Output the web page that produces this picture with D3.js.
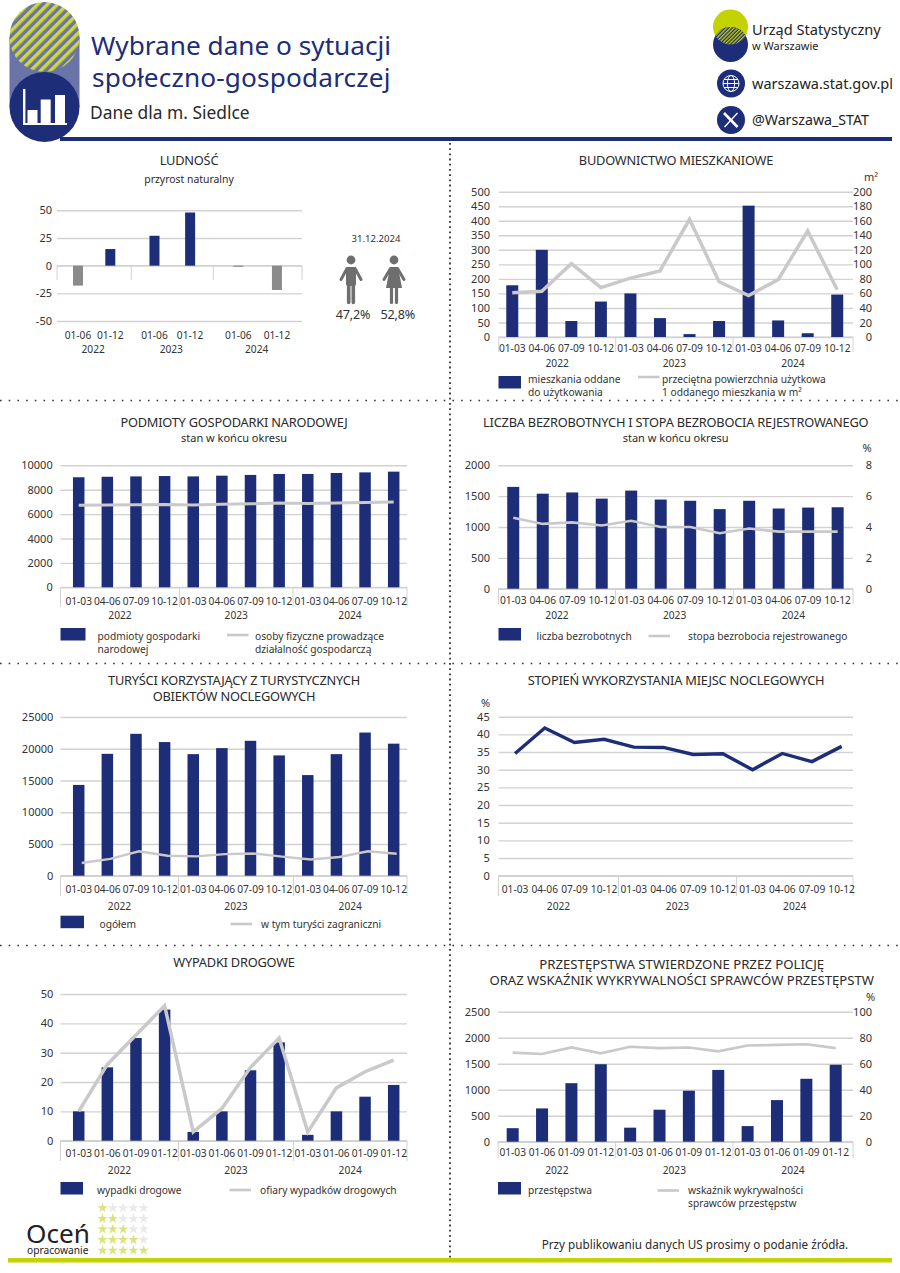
<!DOCTYPE html>
<html lang="pl"><head><meta charset="utf-8">
<script src="https://cdn.jsdelivr.net/npm/d3@7/dist/d3.min.js"></script>
<style>html,body{margin:0;padding:0;background:#fff}svg{display:block}text{font-family:"Noto Sans",sans-serif;fill:#333}</style>
</head><body><svg id="c" width="900" height="1273"></svg>
<script>
// ---------- data ----------
const years = ["2022","2023","2024"];
const catsHalf = ["01-06","01-12"];
const catsQuarter = ["01-03","04-06","07-09","10-12"];
const catsCumulative = ["01-03","01-06","01-09","01-12"];
const naturalIncrease = [-18,15,27,48,-1,-22];
const dwellings = [178,300,55,122,150,65,10,55,452,57,13,146];
const dwellingArea = [61,63,101,68,81,91,162,76,57,79,146,65];
const entities = [9020,9060,9090,9120,9090,9150,9210,9290,9290,9370,9420,9480];
const selfEmployed = [6720,6740,6760,6780,6740,6800,6840,6900,6860,6920,6950,7000];
const unemployed = [1650,1540,1560,1460,1590,1445,1425,1290,1425,1300,1315,1320];
const unemploymentRate = [4.6,4.2,4.3,4.1,4.4,4.0,4.0,3.6,3.9,3.7,3.7,3.7];
const tourists = [14300,19200,22350,21050,19150,20100,21250,18950,15850,19150,22550,20800];
const foreignTourists = [2000,2650,3850,3150,3050,3400,3500,3000,2550,2950,3850,3450];
const occupancy = [34.6,41.8,37.7,38.6,36.4,36.3,34.3,34.5,30,34.6,32.3,36.6];
const accidents = [10,25,35,44.7,3,10,24,33.5,2,10,15,19];
const victims = [10,26,36,46,3,11,25,35,3,18,23.5,27.5];
const crimes = [260,640,1125,1490,270,615,980,1380,300,800,1210,1480];
const detection = [68.5,67.5,72.5,68,73,72,72.5,69.5,74,74.5,75,72];

const NAVY="#1d2d78", GREY="#c9c9c9", GRID="#d2d2d2", LIME="#c4d200", SLATE="#6b74a8";
const svg=d3.select("#c");
const defs=svg.append("defs");
function stripes(id,a,b,p){const g=defs.append("pattern").attr("id",id).attr("width",p).attr("height",p)
  .attr("patternUnits","userSpaceOnUse").attr("patternTransform","rotate(45)");
  g.append("rect").attr("width",p).attr("height",p).attr("fill",b);
  g.append("rect").attr("width",p/2).attr("height",p).attr("fill",a);}
stripes("st1","#cfd836",SLATE,7); stripes("st2",LIME,NAVY,2.6);

function txt(x,y,s,size,o={}){return svg.append("text").attr("x",x).attr("y",y).attr("dy",o.dy===undefined?".35em":o.dy)
  .attr("text-anchor",o.a||"start").attr("font-size",size).style("fill",o.fill||"#333")
  .style("letter-spacing",o.ls||null).text(s);}

// ---------- header ----------
svg.append("rect").attr("x",9.5).attr("y",37).attr("width",70).attr("height",70).attr("fill",SLATE);
svg.append("circle").attr("cx",44.5).attr("cy",37).attr("r",35).attr("fill","url(#st1)");
svg.append("circle").attr("cx",44.5).attr("cy",107).attr("r",35).attr("fill",NAVY);
[[27.5,110],[40.7,99.5],[55,95]].forEach(d=>svg.append("rect").attr("x",d[0]).attr("y",d[1]).attr("width",10).attr("height",123-d[1]).attr("fill","#fff"));
svg.append("rect").attr("x",23).attr("y",89).attr("width",2.4).attr("height",36).attr("fill","#fff");
svg.append("rect").attr("x",23).attr("y",123).attr("width",44).attr("height",2).attr("fill","#fff");
svg.append("rect").attr("x",60).attr("y",137).attr("width",832).attr("height",4).attr("fill",NAVY);
txt(91,55,"Wybrane dane o sytuacji",26.2,{dy:0,fill:NAVY});
txt(92,87,"społeczno-gospodarczej",26.2,{dy:0,fill:NAVY,ls:".15px"});
txt(90,119,"Dane dla m. Siedlce",17.4,{dy:0,fill:"#2a2a2a"});
// logo
svg.append("circle").attr("cx",730.5).attr("cy",27).attr("r",17.5).attr("fill",LIME);
svg.append("circle").attr("cx",730.5).attr("cy",44.5).attr("r",17.5).attr("fill",NAVY);
defs.append("clipPath").attr("id","lens").append("circle").attr("cx",730.5).attr("cy",27).attr("r",17.5);
svg.append("circle").attr("cx",730.5).attr("cy",44.5).attr("r",17.5).attr("fill","url(#st2)").attr("clip-path","url(#lens)");
txt(752,35,"Urząd Statystyczny",14.6,{dy:0,fill:"#222"});
txt(752,50,"w Warszawie",11,{dy:0,fill:"#222"});
svg.append("circle").attr("cx",731).attr("cy",83.5).attr("r",14).attr("fill",NAVY);
const gl=svg.append("g").attr("fill","none").attr("stroke","#fff").attr("stroke-width",1);
gl.append("circle").attr("cx",731).attr("cy",83.5).attr("r",8);
gl.append("ellipse").attr("cx",731).attr("cy",83.5).attr("rx",3.6).attr("ry",8);
gl.append("path").attr("d","M723 83.5H739M724 79.5H738M724 87.5H738");
txt(752,89,"warszawa.stat.gov.pl",14.5,{dy:0,fill:"#222"});
svg.append("circle").attr("cx",731).attr("cy",120).attr("r",14).attr("fill",NAVY);
svg.append("path").attr("d","M737.5 113L724.5 127").attr("stroke","#fff").attr("stroke-width",1.3).attr("fill","none");
svg.append("path").attr("d","M724 113L737.5 127").attr("stroke","#fff").attr("stroke-width",2.6).attr("fill","none");
txt(752,120,"@Warszawa_STAT",14.2,{fill:"#222"});

// ---------- dividers ----------
const dots=svg.append("g").attr("stroke","#333").attr("fill","none");
dots.append("line").attr("x1",450).attr("x2",450).attr("y1",143).attr("y2",1258).attr("stroke-width",1.8).attr("stroke-dasharray","1.8 3.4");
[400.5,663.5,945.5].forEach(y=>dots.append("line").attr("x1",0).attr("x2",900).attr("y1",y).attr("y2",y).attr("stroke-width",1.6).attr("stroke-dasharray","1.6 7.1"));

// ---------- generic chart ----------
function chart(o){
  const g=svg.append("g");
  const y=d3.scaleLinear().domain(o.yDomain).range([o.y0,o.yTop]);
  const n=o.cats.length*years.length, idx=d3.range(n);
  let xPos;
  if(o.nested){
    const per=years.map((_,k)=>d3.scalePoint().domain(d3.range(o.cats.length)).range([o.seps[k],o.seps[k+1]]).padding(o.nested));
    xPos=i=>per[Math.floor(i/o.cats.length)](i%o.cats.length);
  } else {
    const band=d3.scaleBand().domain(idx).range(o.band);
    xPos=i=>band(i)+band.bandwidth()/2;
  }
  const gx0=o.seps[0], gx1=o.seps[o.seps.length-1];
  // left axis with grid
  const ax=g.append("g").attr("transform",`translate(${gx0},0)`)
    .call(d3.axisLeft(y).tickValues(d3.range(o.yDomain[0],o.yDomain[1]+1e-9,o.yStep)).tickFormat(d=>String(d))
      .tickSize(-(gx1-gx0)).tickPadding(gx0-o.labelLeft));
  ax.select(".domain").remove();
  ax.selectAll("line").attr("stroke",GRID).attr("stroke-width",1.4);
  ax.selectAll("text").attr("font-size",o.tickFs||11).style("fill","#333");
  // right axis labels
  if(o.y2Domain){
    const y2=d3.scaleLinear().domain(o.y2Domain).range([o.y0,o.yTop]);
    o.y2=y2;
    const ar=g.append("g").attr("transform",`translate(${gx1},0)`)
      .call(d3.axisRight(y2).tickValues(d3.range(o.y2Domain[0],o.y2Domain[1]+1e-9,o.y2Step)).tickFormat(d=>String(d)).tickSize(0).tickPadding(o.labelRight-gx1));
    ar.select(".domain").remove();
    ar.selectAll("text").attr("text-anchor","end").attr("font-size",o.tickFs||11).style("fill","#333");
  }
  // separators + baseline at value zero
  g.append("line").attr("x1",gx0).attr("x2",gx1).attr("y1",y(0)).attr("y2",y(0)).attr("stroke",GRID).attr("stroke-width",1.2);
  g.selectAll("line.sep").data(o.seps).join("line").attr("class","sep").attr("x1",d=>d).attr("x2",d=>d)
    .attr("y1",y(0)).attr("y2",o.sepBottom).attr("stroke",GRID).attr("stroke-width",1);
  // bars
  if(o.bars){
    const w=o.barW||12;
    g.selectAll("rect.bar").data(o.bars).join("rect").attr("class","bar")
      .attr("x",(d,i)=>xPos(i)-w/2).attr("width",w)
      .attr("y",d=>d>=0?y(d):y(0)).attr("height",d=>Math.abs(y(d)-y(0)))
      .attr("fill",d=>d>=0?NAVY:"#8a8a8a");
  }
  // line
  if(o.line){
    const ly=o.lineOnRight?o.y2:y, dx=o.lineDx||0;
    g.append("path").datum(o.line).attr("fill","none").attr("stroke",o.lineColor||GREY)
      .attr("stroke-width",o.lineW||3).attr("stroke-linejoin","miter")
      .attr("d",d3.line().x((d,i)=>xPos(i)+dx).y(d=>ly(d)));
  }
  // category + year labels
  const cats=idx.map(i=>o.cats[i%o.cats.length]);
  g.selectAll("text.cat").data(cats).join("text").attr("class","cat").attr("x",(d,i)=>xPos(i)).attr("y",o.catY).attr("dy",".35em")
    .attr("text-anchor","middle").attr("font-size",o.catFs||10.2).style("fill","#333").text(d=>d);
  g.selectAll("text.year").data(years).join("text").attr("class","year")
    .attr("x",(d,i)=>(o.seps[i]+o.seps[i+1])/2+(o.yearDx||0)).attr("y",o.yearY).attr("dy",".35em")
    .attr("text-anchor","middle").attr("font-size",o.catFs||10.2).style("fill","#333").text(d=>d);
  // titles
  (o.titles||[]).forEach(t=>txt(t[0],t[1],t[2],t[3],{a:"middle",fill:"#2a2a2a",ls:t[4]}));
  // units
  if(o.unit) txt(o.unit[0],o.unit[1],o.unit[2],11,{a:"middle"});
  // legend
  if(o.legend){
    const L=o.legend;
    svg.append("rect").attr("x",L.sx).attr("y",L.sy).attr("width",L.sw).attr("height",12.5).attr("fill",NAVY);
    L.bar.forEach((t,i)=>txt(L.bx,L.ty+i*13,t,10.2));
    svg.append("line").attr("x1",L.lx).attr("x2",L.lx+21.5).attr("y1",L.ly).attr("y2",L.ly).attr("stroke",GREY).attr("stroke-width",2.6);
    L.line.forEach((t,i)=>txt(L.ltx,L.ty+i*13,t,10.2));
  }
}
const T=12.8, LS="-.22px", SUB=11;

chart({cats:catsHalf,bars:naturalIncrease,yDomain:[-50,50],yStep:25,yTop:210.3,y0:321,
  seps:[57,131.3,213.3,302],nested:.65,sepBottom:280,labelLeft:52,catY:335,yearY:349,yearDx:-1,barW:10,
  titles:[[189,161,"LUDNOŚĆ",T,LS],[189,179,"przyrost naturalny",10.4]]});

chart({cats:catsQuarter,bars:dwellings,line:dwellingArea,lineOnRight:true,lineW:3.5,yDomain:[0,500],yStep:50,y2Domain:[0,200],y2Step:20,
  yTop:191.7,y0:337,seps:[498.7,615.7,733,853],band:[497.5,852],sepBottom:352,labelLeft:490,labelRight:872,catY:348,yearY:363,
  titles:[[676,161,"BUDOWNICTWO MIESZKANIOWE",T,LS]],unit:[871,177,"m²"],
  legend:{sx:498.5,sy:376,sw:22.5,bx:528,ty:379.5,bar:["mieszkania oddane","do użytkowania"],lx:638,ly:377,ltx:662,line:["przeciętna powierzchnia użytkowa","1 oddanego mieszkania w m²"]}});

chart({cats:catsQuarter,bars:entities,line:selfEmployed,yDomain:[0,10000],yStep:2000,yTop:465.3,y0:587.3,
  seps:[60.5,179.5,293,407],band:[64.4,408],barW:11.5,sepBottom:607,labelLeft:52.7,catY:601,yearY:615,
  titles:[[234,423,"PODMIOTY GOSPODARKI NARODOWEJ",T,LS],[234,438,"stan w końcu okresu",SUB]],
  legend:{sx:60.5,sy:628,sw:25,bx:97.5,ty:636.5,bar:["podmioty gospodarki","narodowej"],lx:227,ly:635,ltx:255,line:["osoby fizyczne prowadzące","działalność gospodarczą"]}});

chart({cats:catsQuarter,bars:unemployed,line:unemploymentRate,lineOnRight:true,lineW:2.6,yDomain:[0,2000],yStep:500,y2Domain:[0,8],y2Step:2,
  yTop:465.3,y0:588.7,seps:[498.5,615.5,733.7,853],band:[498.5,852.4],sepBottom:604,labelLeft:490,labelRight:872,catY:600,yearY:615,
  titles:[[675.7,423,"LICZBA BEZROBOTNYCH I STOPA BEZROBOCIA REJESTROWANEGO",T,LS],[675.7,438,"stan w końcu okresu",SUB]],unit:[867,448,"%"],
  legend:{sx:498.5,sy:628,sw:22.5,bx:536.5,ty:636,bar:["liczba bezrobotnych"],lx:648.5,ly:636,ltx:688,line:["stopa bezrobocia rejestrowanego"]}});

chart({cats:catsQuarter,bars:tourists,line:foreignTourists,lineDx:3,lineW:2.4,yDomain:[0,25000],yStep:5000,yTop:717,y0:875.7,
  seps:[60.5,178.5,293.5,407],band:[64.4,408],barW:11.5,sepBottom:896,labelLeft:53.3,catY:889.7,yearY:906.7,
  titles:[[234,680.7,"TURYŚCI KORZYSTAJĄCY Z TURYSTYCZNYCH",T,LS],[234,696.7,"OBIEKTÓW NOCLEGOWYCH",T,LS]],
  legend:{sx:60.5,sy:915.7,sw:23.5,bx:99.5,ty:924,bar:["ogółem"],lx:230.5,ly:924,ltx:261,line:["w tym turyści zagraniczni"]}});

chart({cats:catsQuarter,line:occupancy,lineColor:NAVY,lineW:3.4,yDomain:[0,45],yStep:5,yTop:716.7,y0:875.7,
  seps:[498.5,618.5,736.5,853],band:[500.2,856.5],sepBottom:896,labelLeft:489.7,catY:889.7,yearY:906.7,
  titles:[[676,680.7,"STOPIEŃ WYKORZYSTANIA MIEJSC NOCLEGOWYCH",T,LS]],unit:[485.7,702.7,"%"]});

chart({cats:catsCumulative,bars:accidents,line:victims,lineW:3.5,yDomain:[0,50],yStep:10,yTop:994,y0:1140.7,
  seps:[60.5,178.5,293.5,407],band:[64.4,408],barW:11.5,sepBottom:1161,labelLeft:53.3,catY:1153,yearY:1170,
  titles:[[234,963,"WYPADKI DROGOWE",T,LS]],
  legend:{sx:60.5,sy:1182,sw:22.5,bx:97,ty:1190,bar:["wypadki drogowe"],lx:229.5,ly:1190,ltx:260,line:["ofiary wypadków drogowych"]}});

chart({cats:catsCumulative,bars:crimes,line:detection,lineOnRight:true,lineW:2.6,yDomain:[0,2500],yStep:500,y2Domain:[0,100],y2Step:20,
  yTop:1011.7,y0:1141.7,seps:[498,615.7,733,853],band:[498,850.4],sepBottom:1158.3,labelLeft:490,labelRight:872,catY:1152.7,yearY:1170,
  titles:[[681.7,964.7,"PRZESTĘPSTWA STWIERDZONE PRZEZ POLICJĘ",13.2],[681.7,980.7,"ORAZ WSKAŹNIK WYKRYWALNOŚCI SPRAWCÓW PRZESTĘPSTW",13.1]],unit:[870.7,997,"%"],
  legend:{sx:498,sy:1182,sw:23,bx:528,ty:1190.5,bar:["przestępstwa"],lx:657.5,ly:1190.5,ltx:688,line:["wskaźnik wykrywalności","sprawców przestępstw"]}});

// ---------- gender icons ----------
const IC="#6e6e6e";
function limb(d,w){svg.append("path").attr("d",d).attr("fill","none").attr("stroke",IC).attr("stroke-width",w).attr("stroke-linecap","round");}
svg.append("circle").attr("cx",351).attr("cy",260).attr("r",4.4).attr("fill",IC);
svg.append("rect").attr("x",346).attr("y",267).attr("width",10).attr("height",19).attr("rx",2).attr("fill",IC);
limb("M347 268.5L341 279.5M355 268.5L361 279.5",3); limb("M348.7 284V302.5M353.3 284V302.5",3.6);
svg.append("circle").attr("cx",394).attr("cy",260).attr("r",4.4).attr("fill",IC);
svg.append("path").attr("d","M390 267H398L402 288H386Z").attr("fill",IC);
limb("M390.5 268.5L384 279.5M397.5 268.5L404 279.5",3); limb("M391.5 288V302.5M396.5 288V302.5",3.2);
txt(376,239,"31.12.2024",9.6,{a:"middle"});
txt(353,315,"47,2%",12.6,{a:"middle",ls:"-.2px"});
txt(397.7,315,"52,8%",12.6,{a:"middle",ls:"-.2px"});

// ---------- footer ----------
svg.append("rect").attr("x",8).attr("y",1258).attr("width",884).attr("height",4.5).attr("fill",LIME);
txt(26,1243,"Oceń",26.2,{dy:0,fill:"#222"});
txt(27,1254,"opracowanie",10.2,{dy:0,fill:"#222"});
const stars=d3.symbol().type(d3.symbolStar).size(34);
d3.range(5).forEach(r=>d3.range(5).forEach(c=>{
  svg.append("path").attr("d",stars()).attr("transform",`translate(${102.5+c*10.3},${1208+r*10.6})`)
    .attr("fill",c<=r?"#dbe37c":"#e9e9e9");
}));
txt(541.7,1249,"Przy publikowaniu danych US prosimy o podanie źródła.",11.7,{dy:0,fill:"#2a2a2a"});
</script></body></html>
